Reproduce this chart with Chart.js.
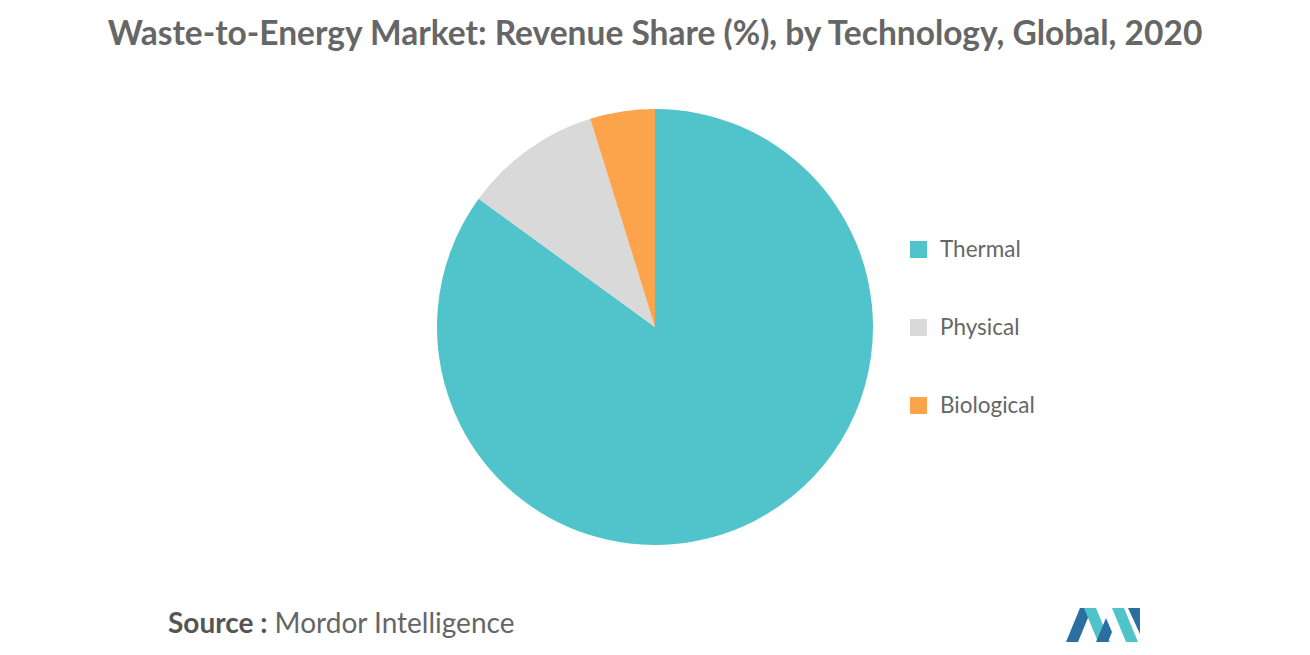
<!DOCTYPE html>
<html>
<head>
<meta charset="utf-8">
<script src="https://cdn.jsdelivr.net/npm/chart.js@4"></script>
<style>
  body { margin: 0; width: 1310px; height: 655px; background: #fff; position: relative; font-family: Lato, "Open Sans", sans-serif; overflow: hidden; }
  #title { position: absolute; top: 12px; left: 0; width: 1310px; text-align: center; font-size: 33.5px; font-weight: bold; color: #666; }
  #wrap { position: absolute; left: 437px; top: 109px; width: 436px; height: 436px; }
  #legend { position: absolute; left: 910px; top: 235px; }
  .item { height: 78px; font-size: 22.5px; color: #666; display: flex; align-items: flex-start; }
  .sw { width: 17px; height: 17px; margin: 6px 13px 0 0; }
  #source { position: absolute; left: 168px; top: 605px; font-size: 28px; color: #666; }
  #source b { color: #555; }
</style>
</head>
<body>
<div id="title">Waste-to-Energy Market: Revenue Share (%), by Technology, Global, 2020</div>
<div id="wrap"><canvas id="pie"></canvas></div>
<div id="legend"></div>
<div id="source"><b>Source :</b> Mordor Intelligence</div>
<svg style="position:absolute;left:1066px;top:604px" width="76" height="40">
  <polygon points="0,38 14,4 26,4 12,38" fill="#2a6fa0"/>
  <polygon points="18,4 30,4 44,38 32,38" fill="#4fc3c8"/>
  <polygon points="30,38 40,14 46,28 42,38" fill="#2a6fa0"/>
  <polygon points="46,4 58,4 72,38 60,38" fill="#4fc3c8"/>
  <polygon points="62,4 74,4 74,30" fill="#2a6fa0"/>
</svg>
<script>
const categories = ['Thermal', 'Physical', 'Biological'];
const shares = [85, 10.2, 4.8];
const colors = ['#50c4ca', '#d9d9d9', '#fba44c'];

const legend = document.getElementById('legend');
categories.forEach((c, i) => {
  const d = document.createElement('div');
  d.className = 'item';
  d.innerHTML = `<span class="sw" style="background:${colors[i]}"></span>${c}`;
  legend.appendChild(d);
});

new Chart(document.getElementById('pie').getContext('2d'), {
  type: 'pie',
  data: { labels: categories, datasets: [{ data: shares, backgroundColor: colors, borderWidth: 0 }] },
  options: {
    responsive: true, maintainAspectRatio: false, animation: false,
    layout: { padding: 0 },
    plugins: { legend: { display: false }, tooltip: { enabled: false } }
  }
});
</script>
</body>
</html>
